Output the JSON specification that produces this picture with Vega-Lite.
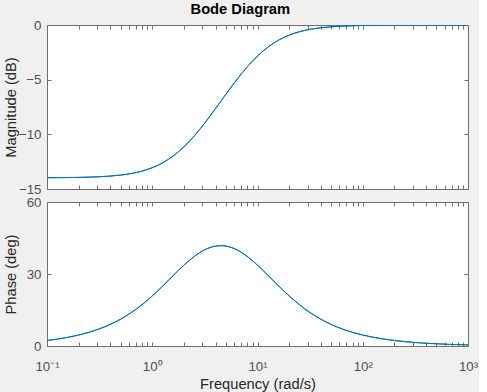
{
  "$schema": "https://vega.github.io/schema/vega-lite/v6.json",
  "background": "#f0f0f0",
  "padding": {"left": 2, "top": 1, "right": 0, "bottom": 0},
  "title": {"text": "Bode Diagram", "font": "Liberation Sans", "fontSize": 14.7, "fontWeight": "bold", "color": "#000000", "anchor": "middle", "baseline": "alphabetic", "offset": -11},
  "data": {"values": [
    {"w": 0.1, "mag": -13.969, "phase": 2.290},
    {"w": 0.1259, "mag": -13.963, "phase": 2.881},
    {"w": 0.1585, "mag": -13.953, "phase": 3.623},
    {"w": 0.1995, "mag": -13.938, "phase": 4.554},
    {"w": 0.2512, "mag": -13.914, "phase": 5.720},
    {"w": 0.3162, "mag": -13.877, "phase": 7.173},
    {"w": 0.3981, "mag": -13.818, "phase": 8.977},
    {"w": 0.5012, "mag": -13.726, "phase": 11.20},
    {"w": 0.631, "mag": -13.585, "phase": 13.90},
    {"w": 0.7943, "mag": -13.371, "phase": 17.12},
    {"w": 1, "mag": -13.054, "phase": 20.854},
    {"w": 1.259, "mag": -12.598, "phase": 25.01},
    {"w": 1.585, "mag": -11.971, "phase": 29.39},
    {"w": 1.995, "mag": -11.149, "phase": 33.65},
    {"w": 2.512, "mag": -10.133, "phase": 37.37},
    {"w": 3.162, "mag": -8.953, "phase": 40.14},
    {"w": 3.981, "mag": -7.661, "phase": 41.61},
    {"w": 4.472, "mag": -6.990, "phase": 41.81},
    {"w": 5.012, "mag": -6.331, "phase": 41.63},
    {"w": 6.31, "mag": -5.040, "phase": 40.16},
    {"w": 7.943, "mag": -3.857, "phase": 37.41},
    {"w": 10, "mag": -2.840, "phase": 33.69},
    {"w": 12.59, "mag": -2.016, "phase": 29.43},
    {"w": 15.85, "mag": -1.387, "phase": 25.06},
    {"w": 19.95, "mag": -0.930, "phase": 20.90},
    {"w": 25.12, "mag": -0.611, "phase": 17.16},
    {"w": 31.62, "mag": -0.397, "phase": 13.93},
    {"w": 39.81, "mag": -0.255, "phase": 11.22},
    {"w": 50.12, "mag": -0.163, "phase": 8.99},
    {"w": 63.1, "mag": -0.103, "phase": 7.18},
    {"w": 79.43, "mag": -0.066, "phase": 5.73},
    {"w": 100, "mag": -0.041, "phase": 4.57},
    {"w": 125.9, "mag": -0.026, "phase": 3.63},
    {"w": 158.5, "mag": -0.017, "phase": 2.89},
    {"w": 199.5, "mag": -0.010, "phase": 2.30},
    {"w": 251.2, "mag": -0.007, "phase": 1.82},
    {"w": 316.2, "mag": -0.004, "phase": 1.449},
    {"w": 398.1, "mag": -0.003, "phase": 1.151},
    {"w": 501.2, "mag": -0.002, "phase": 0.915},
    {"w": 631, "mag": -0.001, "phase": 0.726},
    {"w": 794.3, "mag": -0.001, "phase": 0.577},
    {"w": 1000, "mag": 0, "phase": 0.458}
  ]},
  "spacing": -2,
  "vconcat": [
    {
      "width": 421,
      "height": 164,
      "layer": [
        {
          "mark": {"type": "line", "color": "#0072BD", "strokeWidth": 1, "interpolate": "monotone", "clip": true},
          "encoding": {
            "x": {"field": "w", "type": "quantitative", "scale": {"type": "log", "domain": [0.1, 1000], "nice": false},
                  "axis": {"orient": "bottom", "title": null, "labels": false, "values": [0.1,0.2,0.3,0.4,0.5,0.6,0.7,0.8,0.9,1,2,3,4,5,6,7,8,9,10,20,30,40,50,60,70,80,90,100,200,300,400,500,600,700,800,900,1000]}},
            "y": {"field": "mag", "type": "quantitative", "scale": {"domain": [-15, 0], "nice": false},
                  "axis": {"orient": "left", "title": "Magnitude (dB)", "values": [-15, -10, -5, 0], "titleX": -32, "titleBaseline": "alphabetic", "titleAngle": -90}}
          }
        },
        {
          "mark": {"type": "line", "color": "#0072BD", "strokeWidth": 1, "interpolate": "monotone", "clip": true},
          "encoding": {
            "x": {"field": "w", "type": "quantitative",
                  "axis": {"orient": "top", "title": null, "labels": false, "values": [0.1,0.2,0.3,0.4,0.5,0.6,0.7,0.8,0.9,1,2,3,4,5,6,7,8,9,10,20,30,40,50,60,70,80,90,100,200,300,400,500,600,700,800,900,1000]}},
            "y": {"field": "mag", "type": "quantitative",
                  "axis": {"orient": "right", "title": null, "labels": false, "values": [-15, -10, -5, 0]}}
          }
        }
      ],
      "resolve": {"axis": {"x": "independent", "y": "independent"}}
    },
    {
      "width": 421,
      "height": 144,
      "layer": [
        {
          "mark": {"type": "line", "color": "#0072BD", "strokeWidth": 1, "interpolate": "monotone", "clip": true},
          "encoding": {
            "x": {"field": "w", "type": "quantitative", "scale": {"type": "log", "domain": [0.1, 1000], "nice": false},
                  "axis": {"orient": "bottom", "title": "Frequency  (rad/s)", "titleY": 42, "titleBaseline": "alphabetic",
                           "labelBaseline": "alphabetic", "labelPadding": 28, "labelFlush": false, "labelOverlap": false, "labelBound": false,
                           "labelExpr": "datum.value === 0.1 ? '10⁻¹' : datum.value === 1 ? '10⁰' : datum.value === 10 ? '10¹' : datum.value === 100 ? '10²' : datum.value === 1000 ? '10³' : ''",
                           "values": [0.1,0.2,0.3,0.4,0.5,0.6,0.7,0.8,0.9,1,2,3,4,5,6,7,8,9,10,20,30,40,50,60,70,80,90,100,200,300,400,500,600,700,800,900,1000]}},
            "y": {"field": "phase", "type": "quantitative", "scale": {"domain": [0, 60], "nice": false},
                  "axis": {"orient": "left", "title": "Phase (deg)", "values": [0, 30, 60], "titleX": -32, "titleBaseline": "alphabetic", "titleAngle": -90}}
          }
        },
        {
          "mark": {"type": "line", "color": "#0072BD", "strokeWidth": 1, "interpolate": "monotone", "clip": true},
          "encoding": {
            "x": {"field": "w", "type": "quantitative",
                  "axis": {"orient": "top", "title": null, "labels": false, "values": [0.1,0.2,0.3,0.4,0.5,0.6,0.7,0.8,0.9,1,2,3,4,5,6,7,8,9,10,20,30,40,50,60,70,80,90,100,200,300,400,500,600,700,800,900,1000]}},
            "y": {"field": "phase", "type": "quantitative",
                  "axis": {"orient": "right", "title": null, "labels": false, "values": [0, 30, 60]}}
          }
        }
      ],
      "resolve": {"axis": {"x": "independent", "y": "independent"}}
    }
  ],
  "config": {
    "view": {"stroke": "#707070", "strokeWidth": 1, "fill": "#ffffff"},
    "axis": {
      "domain": false,
      "grid": false,
      "tickColor": "#707070",
      "tickWidth": 1,
      "tickSize": -4,
      "labelPadding": 10,
      "labelFont": "Liberation Sans",
      "labelFontSize": 13.3,
      "labelColor": "#505050",
      "titleFont": "Liberation Sans",
      "titleFontSize": 14.7,
      "titleFontWeight": "normal",
      "titleColor": "#262626"
    }
  }
}
